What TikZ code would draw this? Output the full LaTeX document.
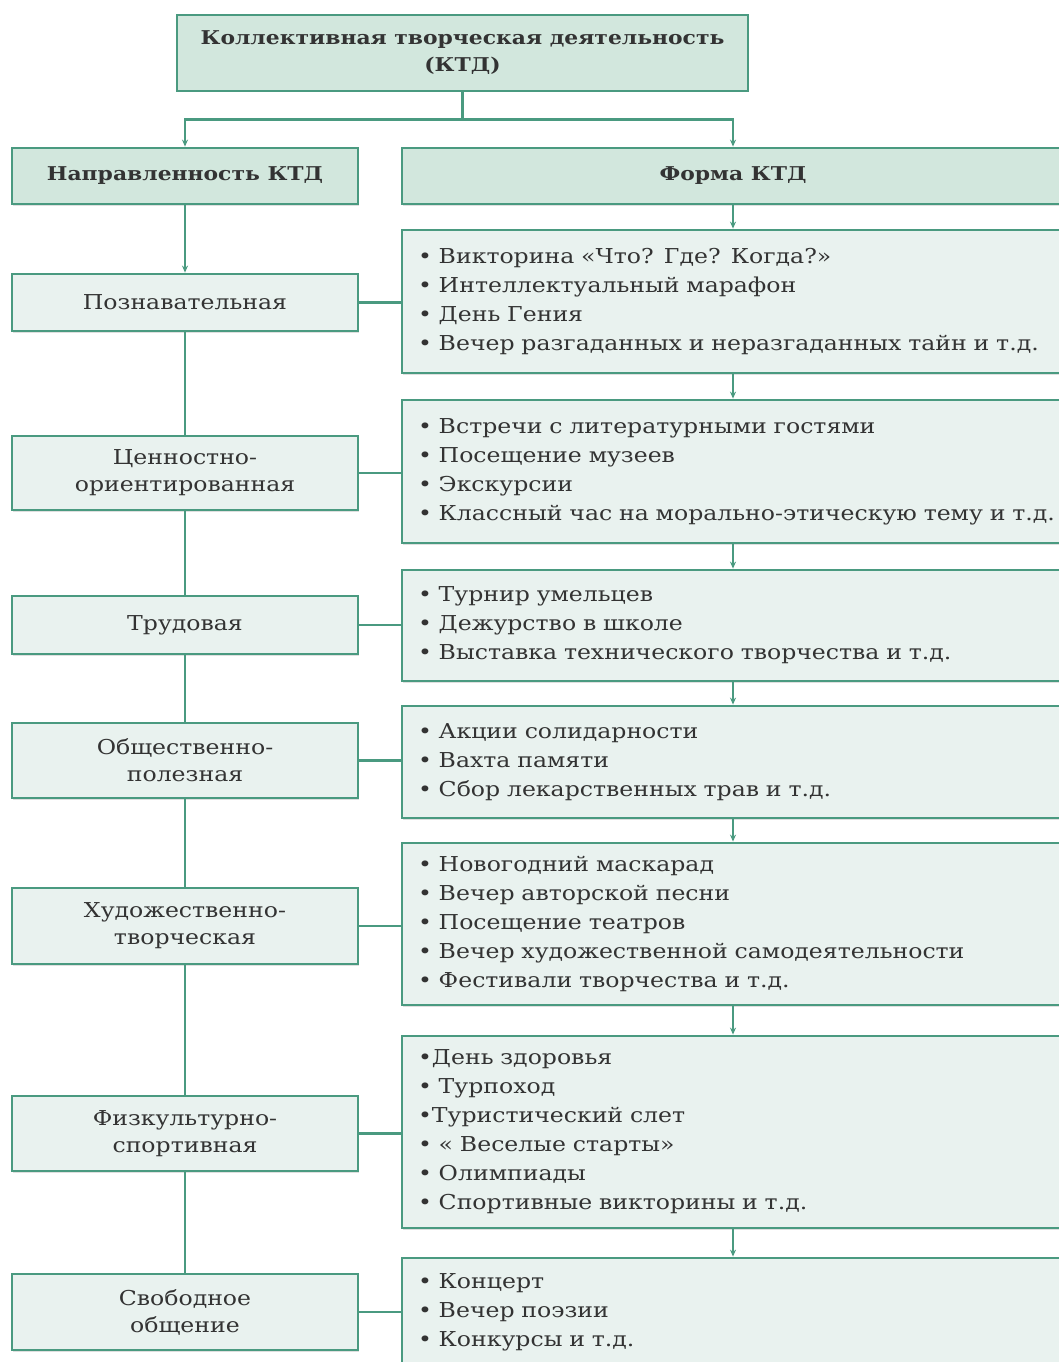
\documentclass[tikz,border=0pt]{standalone}
\usepackage{fontspec}
\setmainfont[FakeStretch=1.15]{DejaVu Serif}
\usetikzlibrary{arrows.meta,shadows}

\definecolor{ktdline}{HTML}{4A9A80}
\definecolor{ktdhead}{HTML}{D2E7DD}
\definecolor{ktdbody}{HTML}{E9F2EF}
\definecolor{ktdtext}{HTML}{333333}

\begin{document}
\begin{tikzpicture}[x=1pt,y=-1pt]
\tikzstyle{box} = [draw=ktdline,line width=2.8pt,fill=ktdbody,text=ktdtext,
  drop shadow={shadow xshift=1pt,shadow yshift=-1.5pt,opacity=.25},
  font=\fontsize{20.5}{27}\selectfont,align=center,inner sep=0pt]
\tikzstyle{head} = [box,fill=ktdhead,font=\fontsize{19}{27}\selectfont\bfseries]
\tikzstyle{dir} = [box,minimum width=346pt]
\tikzstyle{list} = [box,minimum width=690pt,text width=658pt,align=left,
  font=\fontsize{20.5}{29}\selectfont]
\tikzstyle{link} = [draw=ktdline,line width=2.8pt]
\tikzstyle{arrow} = [link,-{Stealth[length=7pt,width=6pt]}]

\useasboundingbox (0,0) rectangle (1059,1362);
\clip (0,0) rectangle (1059,1362);

% top
\node[head,minimum width=571pt,minimum height=76pt] (ktd) at (462.5,53)
  {Коллективная творческая деятельность\\(КТД)};
\node[head,minimum width=346pt,minimum height=56pt] (napr) at (185,176) {Направленность КТД};
\node[head,minimum width=662pt,minimum height=56pt] (forma) at (733,176) {Форма КТД};

% directions
\node[dir,minimum height=57pt] (b1) at (185,302.5) {Познавательная};
\node[dir,minimum height=74pt] (b2) at (185,473) {Ценностно-\\ориентированная};
\node[dir,minimum height=58pt] (b3) at (185,625) {Трудовая};
\node[dir,minimum height=75pt] (b4) at (185,760.5) {Общественно-\\полезная};
\node[dir,minimum height=76pt] (b5) at (185,926) {Художественно-\\творческая};
\node[dir,minimum height=75pt] (b6) at (185,1133.5) {Физкультурно-\\спортивная};
\node[dir,minimum height=76pt] (b7) at (185,1312) {Свободное\\общение};

% forms
\node[list,minimum height=143pt] (r1) at (747,301.5) {%
• Викторина «Что? Где? Когда?»\\
• Интеллектуальный марафон\\
• День Гения\\
• Вечер разгаданных и неразгаданных тайн и т.д.};
\node[list,minimum height=143pt] (r2) at (747,471.5) {%
• Встречи с литературными гостями\\
• Посещение музеев\\
• Экскурсии\\
• Классный час на морально-этическую тему и т.д.};
\node[list,minimum height=111pt] (r3) at (747,625.5) {%
• Турнир умельцев\\
• Дежурство в школе\\
• Выставка технического творчества и т.д.};
\node[list,minimum height=112pt] (r4) at (747,762) {%
• Акции солидарности\\
• Вахта памяти\\
• Сбор лекарственных трав и т.д.};
\node[list,minimum height=162pt] (r5) at (747,924) {%
• Новогодний маскарад\\
• Вечер авторской песни\\
• Посещение театров\\
• Вечер художественной самодеятельности\\
• Фестивали творчества и т.д.};
\node[list,minimum height=192pt] (r6) at (747,1132) {%
•День здоровья\\
• Турпоход\\
•Туристический слет\\
• « Веселые старты»\\
• Олимпиады\\
• Спортивные викторины и т.д.};
\node[list,minimum height=108pt] (r7) at (747,1312) {%
• Концерт\\
• Вечер поэзии\\
• Конкурсы и т.д.};

% connectors
\draw[link] (ktd.south) -- ++(0,27) coordinate (split);
\draw[arrow] (split) -| (napr.north);
\draw[arrow] (split) -| (forma.north);
\draw[arrow] (napr) -- (b1);
\draw[arrow] (forma.south) -- (r1.north -| forma);
\foreach \a/\b in {b1/b2,b2/b3,b3/b4,b4/b5,b5/b6,b6/b7}
  \draw[link] (\a) -- (\b);
\foreach \a/\b in {r1/r2,r2/r3,r3/r4,r4/r5,r5/r6,r6/r7}
  \draw[arrow] (\a.south -| forma) -- (\b.north -| forma);
\foreach \i in {1,...,7}
  \draw[link] (b\i.east) -- (b\i.east -| r\i.west);

\end{tikzpicture}
\end{document}
